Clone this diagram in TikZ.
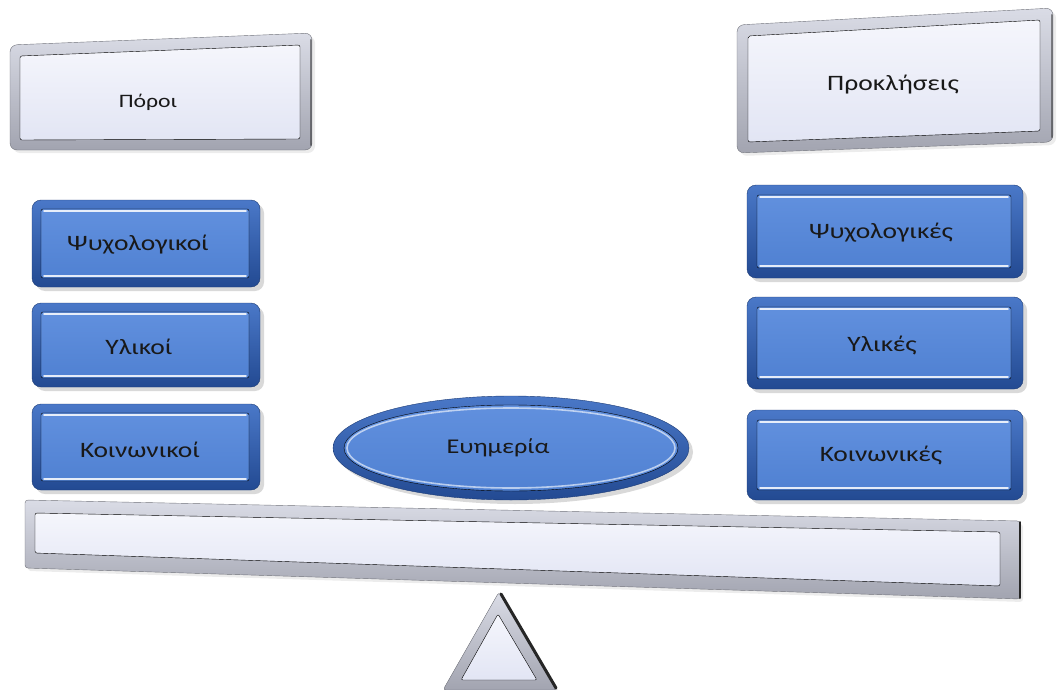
\documentclass[tikz,border=0pt]{standalone}
\usepackage{fontspec}
\setmainfont{Carlito}[FakeStretch=1.25]
\usetikzlibrary{shadows}

\begin{document}
\begin{tikzpicture}[x=1pt,y=-1pt,
        silverrim/.style={top color=rimtop, bottom color=rimbot, draw=rimbot!70!black, rounded corners=7pt,
            drop shadow={opacity=0.15, shadow xshift=3pt, shadow yshift=-3pt}},
        silverface/.style={top color=faceA, bottom color=faceB, rounded corners=2pt},
        bluerim/.style={top color=bluetop, bottom color=bluebot, draw=bluebot!80!black, rounded corners=9pt,
            drop shadow={opacity=0.3, shadow xshift=4pt, shadow yshift=-4pt}},
        blueface/.style={top color=blueA, bottom color=blueB, rounded corners=2pt},
        shine/.style={white, line width=1.6pt, opacity=0.85, line cap=round},
        darkedge/.style={black!85, line width=3pt, line cap=round},
        lbl/.style={font=\fontsize{22}{26}\selectfont, text=black!90}]
    \definecolor{rimtop}{HTML}{DADCE6}
    \definecolor{rimbot}{HTML}{A2A4B0}
    \definecolor{faceA}{HTML}{F5F6FC}
    \definecolor{faceB}{HTML}{E2E5F4}
    \definecolor{bluetop}{HTML}{4A78C8}
    \definecolor{bluebot}{HTML}{234A92}
    \definecolor{blueA}{HTML}{6190DE}
    \definecolor{blueB}{HTML}{5081D2}
    \useasboundingbox (0,0) rectangle (1057,690);
    % top boxes
    \draw[silverrim] (10,45) -- (312,33) -- (312,150) -- (10,150) -- cycle;
    \draw[silverface] (20,56) -- (300,45) -- (300,139) -- (20,140) -- cycle;
    \draw[darkedge, line width=2pt, opacity=0.5] (311,40) -- (311,145);
    \node[lbl, font=\fontsize{19}{22}\selectfont] (poroi) at (148,102) {Πόροι};
    \draw[silverrim] (737,25) -- (1053,8) -- (1053,142) -- (737,153) -- cycle;
    \draw[silverface] (748,36) -- (1040,20) -- (1040,131) -- (748,142) -- cycle;
    \draw[darkedge, line width=2pt, opacity=0.5] (1052,15) -- (1052,137);
    \node[lbl] (prokliseis) at (893,85) {Προκλήσεις};
    % left column
    \draw[bluerim] (32,200) rectangle (260,287);
    \draw[blueface] (41,209) rectangle (249,278);
    \draw[shine] (44,211) -- (246,211);
    \draw[shine] (44,276) -- (246,276);
    \node[lbl] (psyL) at (138,245) {Ψυχολογικοί};
    \draw[bluerim] (32,303) rectangle (260,387);
    \draw[blueface] (41,312) rectangle (249,378);
    \draw[shine] (44,314) -- (246,314);
    \draw[shine] (44,376) -- (246,376);
    \node[lbl] (ylL) at (139,347) {Υλικοί};
    \draw[bluerim] (32,404) rectangle (260,490);
    \draw[blueface] (41,413) rectangle (249,481);
    \draw[shine] (44,415) -- (246,415);
    \draw[shine] (44,479) -- (246,479);
    \node[lbl] (koinL) at (140,450) {Κοινωνικοί};
    % right column
    \draw[bluerim] (747,185) rectangle (1023,278);
    \draw[blueface] (757,195) rectangle (1011,268);
    \draw[shine] (760,197) -- (1008,197);
    \draw[shine] (760,266) -- (1008,266);
    \node[lbl] (psyR) at (881,233) {Ψυχολογικές};
    \draw[bluerim] (747,297) rectangle (1023,389);
    \draw[blueface] (757,307) rectangle (1011,379);
    \draw[shine] (760,309) -- (1008,309);
    \draw[shine] (760,377) -- (1008,377);
    \node[lbl] (ylR) at (882,345) {Υλικές};
    \draw[bluerim] (747,410) rectangle (1023,500);
    \draw[blueface] (757,420) rectangle (1011,490);
    \draw[shine] (760,422) -- (1008,422);
    \draw[shine] (760,488) -- (1008,488);
    \node[lbl] (koinR) at (881,455) {Κοινωνικές};
    % centre
    \draw[bluerim] (511,448) ellipse [x radius=178, y radius=52];
    \draw[blueface] (511,448) ellipse [x radius=167, y radius=43];
    \draw[shine, opacity=0.6] (511,448) ellipse [x radius=164, y radius=40];
    \node[lbl, font=\fontsize{21}{24}\selectfont] (eyimeria) at (498,448) {Ευημερία};
    % beam and pivot
    \draw[silverrim, rounded corners=3pt] (25,500) -- (1020,521) -- (1020,599) -- (25,568) -- cycle;
    \draw[silverface] (35,513) -- (1000,532) -- (1000,586) -- (35,553) -- cycle;
    \draw[darkedge, line width=2pt] (1020,522) -- (1020,598);
    \draw[silverrim, rounded corners=3pt] (499,592) -- (557,690) -- (443,690) -- cycle;
    \draw[silverface] (498,614) -- (537,680) -- (461,680) -- cycle;
    \draw[darkedge] (501,594) -- (556,688);
\end{tikzpicture}
\end{document}
